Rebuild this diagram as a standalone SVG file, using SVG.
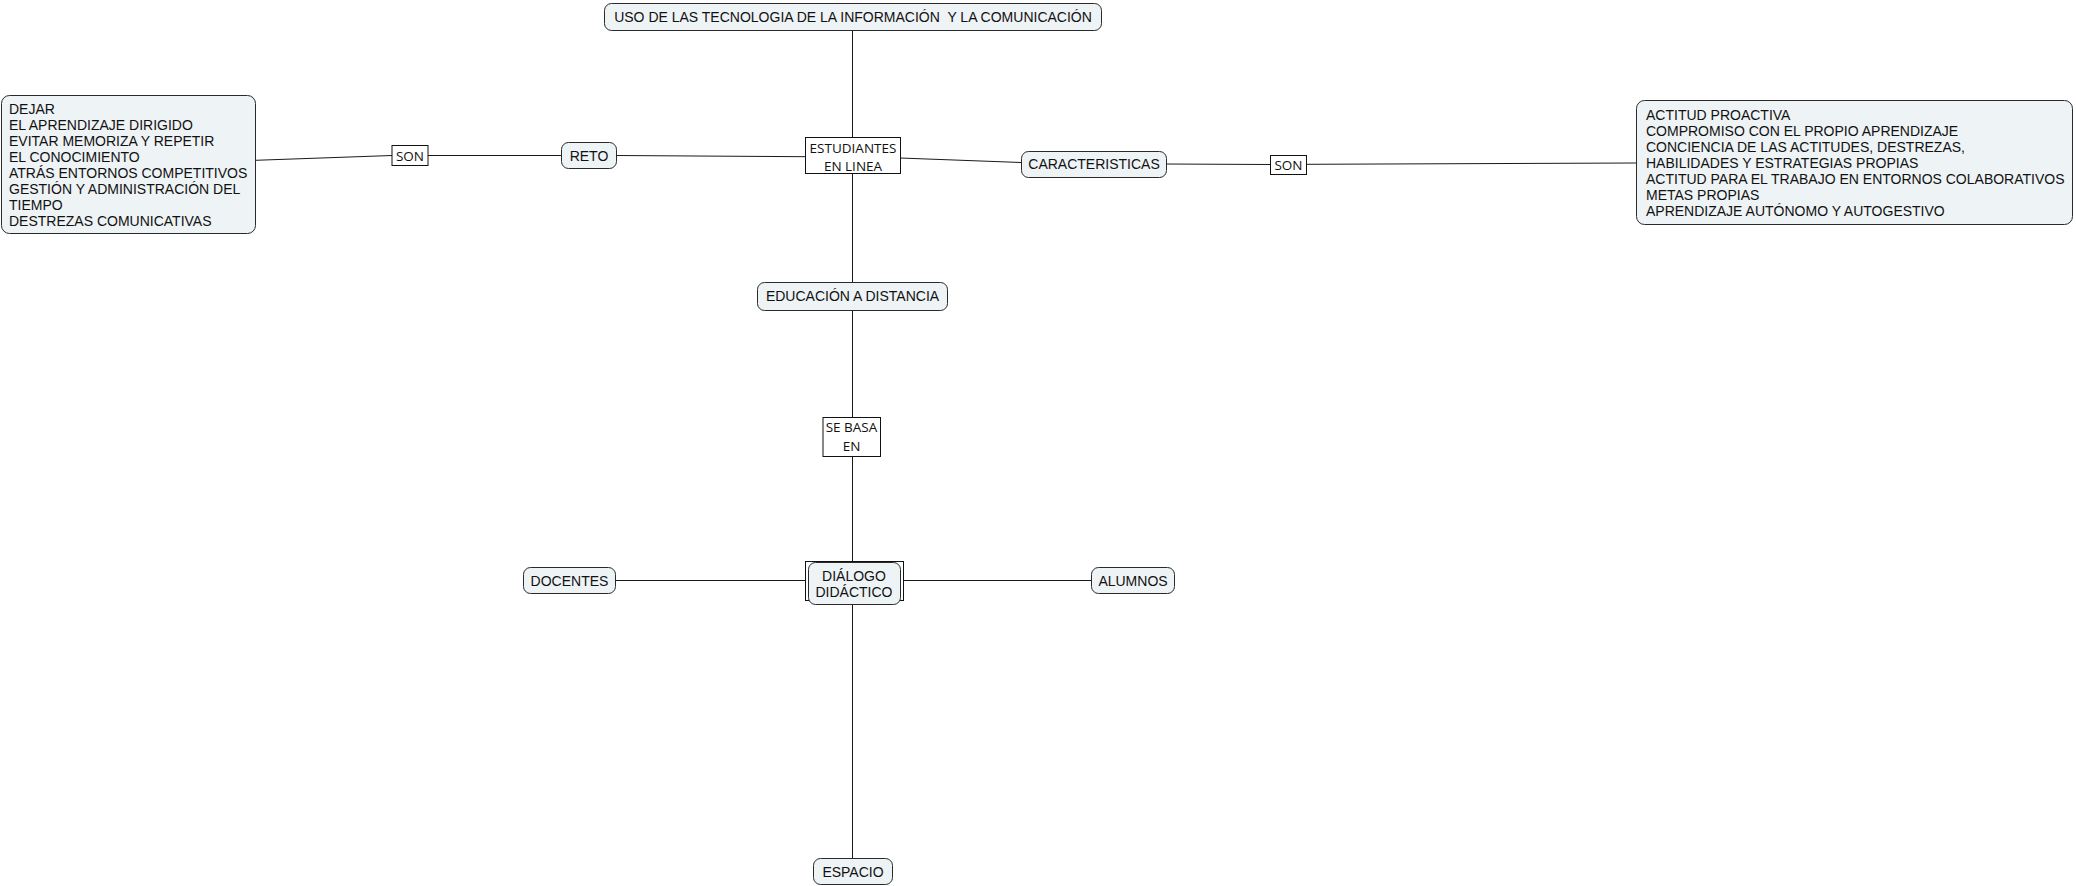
<svg xmlns="http://www.w3.org/2000/svg" width="2076" height="886" viewBox="0 0 2076 886">
<style>
.n{fill:#eef3f5;stroke:#2a2a2a;stroke-width:1}
.b{fill:#fff;stroke:#111;stroke-width:1}
.t{font-family:"Liberation Sans",Arial,sans-serif;font-size:14px;fill:#111}
.c{text-anchor:middle}
.s{font-family:"Open Sans","Noto Sans",sans-serif;font-size:13.5px;fill:#111;text-anchor:middle}
.l{stroke:#1a1a1a;stroke-width:1;fill:none}
</style>
<rect width="2076" height="886" fill="#fff"/>
<g id="connectors">
<line class="l" x1="852.5" y1="30" x2="852.5" y2="137"/>
<line class="l" x1="852.5" y1="174" x2="852.5" y2="282"/>
<line class="l" x1="852.5" y1="310" x2="852.5" y2="417"/>
<line class="l" x1="852.5" y1="456" x2="852.5" y2="562"/>
<line class="l" x1="852.5" y1="604" x2="852.5" y2="858"/>
<line class="l" x1="616" y1="580.5" x2="805" y2="580.5"/>
<line class="l" x1="904" y1="580.5" x2="1091" y2="580.5"/>
<line class="l" x1="805" y1="156.7" x2="616" y2="155.5"/>
<line class="l" x1="562" y1="155.5" x2="428" y2="155.5"/>
<line class="l" x1="392" y1="155.5" x2="255.5" y2="160.3"/>
<line class="l" x1="900" y1="158" x2="1021" y2="162.5"/>
<line class="l" x1="1166" y1="164" x2="1270" y2="164.5"/>
<line class="l" x1="1307" y1="164.3" x2="1636" y2="163"/>
</g>
<g id="n-uso">
<rect class="n" x="604.5" y="3.5" width="497" height="27" rx="7"/>
<text class="t c" x="853" y="21.5" style="white-space:pre" xml:space="preserve">USO DE LAS TECNOLOGIA DE LA INFORMACIÓN  Y LA COMUNICACIÓN</text>
</g>
<g id="n-estudiantes">
<rect class="b" x="805.5" y="137.5" width="95" height="36"/>
<text class="s" x="853" y="152.5">ESTUDIANTES</text>
<text class="s" x="853" y="171.3">EN LINEA</text>
</g>
<g id="n-reto">
<rect class="n" x="561.5" y="142.5" width="55" height="26" rx="7"/>
<text class="t c" x="589" y="160.5">RETO</text>
</g>
<g id="n-son-izq">
<rect class="b" x="392" y="145.5" width="36" height="20"/>
<text class="s" x="410" y="160.5">SON</text>
</g>
<g id="n-dejar">
<rect class="n" x="1.5" y="95.5" width="254" height="138" rx="8"/>
<text class="t" x="9" y="114">DEJAR</text>
<text class="t" x="9" y="130">EL APRENDIZAJE DIRIGIDO</text>
<text class="t" x="9" y="146">EVITAR MEMORIZA Y REPETIR</text>
<text class="t" x="9" y="162">EL CONOCIMIENTO</text>
<text class="t" x="9" y="178">ATRÁS ENTORNOS COMPETITIVOS</text>
<text class="t" x="9" y="194">GESTIÓN Y ADMINISTRACIÓN DEL</text>
<text class="t" x="9" y="210">TIEMPO</text>
<text class="t" x="9" y="226">DESTREZAS COMUNICATIVAS</text>
</g>
<g id="n-caracteristicas">
<rect class="n" x="1021.5" y="151.5" width="145" height="26" rx="7"/>
<text class="t c" x="1094" y="169">CARACTERISTICAS</text>
</g>
<g id="n-son-der">
<rect class="b" x="1270.5" y="155.5" width="36" height="19"/>
<text class="s" x="1288.5" y="170">SON</text>
</g>
<g id="n-actitud">
<rect class="n" x="1636.5" y="100.5" width="436" height="124" rx="8"/>
<text class="t" x="1646" y="119.5">ACTITUD PROACTIVA</text>
<text class="t" x="1646" y="135.6">COMPROMISO CON EL PROPIO APRENDIZAJE</text>
<text class="t" x="1646" y="151.7">CONCIENCIA DE LAS ACTITUDES, DESTREZAS,</text>
<text class="t" x="1646" y="167.8">HABILIDADES Y ESTRATEGIAS PROPIAS</text>
<text class="t" x="1646" y="183.9">ACTITUD PARA EL TRABAJO EN ENTORNOS COLABORATIVOS</text>
<text class="t" x="1646" y="200">METAS PROPIAS</text>
<text class="t" x="1646" y="216.1">APRENDIZAJE AUTÓNOMO Y AUTOGESTIVO</text>
</g>
<g id="n-educacion">
<rect class="n" x="757.5" y="282.5" width="190" height="28" rx="7"/>
<text class="t c" x="852.5" y="301">EDUCACIÓN A DISTANCIA</text>
</g>
<g id="n-sebasa">
<rect class="b" x="823" y="417.5" width="57.5" height="39"/>
<text class="s" x="851.5" y="432.3">SE BASA</text>
<text class="s" x="851.5" y="451">EN</text>
</g>
<g id="n-dialogo">
<rect class="b" x="805.5" y="561.5" width="98" height="39"/>
<rect class="n" x="808.5" y="562.5" width="92" height="42" rx="7"/>
<text class="t c" x="854" y="581">DIÁLOGO</text>
<text class="t c" x="854" y="597">DIDÁCTICO</text>
</g>
<g id="n-docentes">
<rect class="n" x="523.5" y="567.5" width="92" height="26" rx="7"/>
<text class="t c" x="569.5" y="585.5">DOCENTES</text>
</g>
<g id="n-alumnos">
<rect class="n" x="1091.5" y="567.5" width="83" height="26" rx="7"/>
<text class="t c" x="1133" y="585.5">ALUMNOS</text>
</g>
<g id="n-espacio">
<rect class="n" x="813.5" y="858.5" width="79" height="26" rx="7"/>
<text class="t c" x="853" y="876.5">ESPACIO</text>
</g>
</svg>
